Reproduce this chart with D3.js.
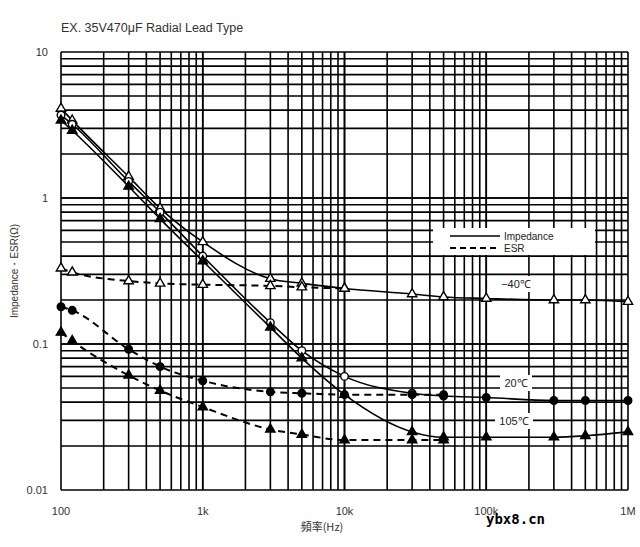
<!DOCTYPE html>
<html><head><meta charset="utf-8">
<script src="https://cdn.jsdelivr.net/npm/d3@7"></script>
<style>body{margin:0;background:#fff}</style></head>
<body><svg id="c" width="640" height="547"></svg>
<script>
const freqs = [100,120,300,500,1e3,3e3,5e3,1e4,3e4,5e4,1e5,3e5,5e5,1e6];
const zM40 = [4.1,3.4,1.4,0.85,0.5,0.28,0.26,0.24,0.22,0.21,0.205,0.2,0.2,0.195];
const esrM40 = [0.33,0.31,0.27,0.26,0.255,0.25,0.245,0.24];
const z20 = [3.7,3.2,1.3,0.8,0.4,0.14,0.09,0.06,0.046,0.044,0.043,0.041,0.041,0.041];
const esr20 = [0.18,0.17,0.092,0.07,0.056,0.047,0.046,0.045,0.045,0.045];
const z105 = [3.4,2.9,1.2,0.72,0.37,0.13,0.08,0.045,0.025,0.023,0.023,0.023,0.0235,0.025];
const esr105 = [0.12,0.105,0.061,0.048,0.037,0.026,0.024,0.022,0.022,0.022];
const xTicks = [[100,"100"],[1e3,"1k"],[1e4,"10k"],[1e5,"100k"],[1e6,"1M"]];
const yTicks = [[10,"10"],[1,"1"],[0.1,"0.1"],[0.01,"0.01"]];

const svg = d3.select("#c");
const x = d3.scaleLog().domain([100,1e6]).range([61,628]);
const y = d3.scaleLog().domain([0.01,10]).range([490,52]);
const F = "Arial, 'Liberation Sans', sans-serif";
const g = svg.append("g");
const xg=[], yg=[];
for (let d=100; d<1e6; d*=10) for (let k=1;k<=10;k++) xg.push(d*k);
for (let d=0.01; d<9.99; d*=10) for (let k=1;k<=10;k++) yg.push(d*k);
g.selectAll(".vx").data(xg).enter().append("line").attr("x1",d=>x(d)).attr("x2",d=>x(d)).attr("y1",y(10)).attr("y2",y(0.01)).attr("stroke","#000").attr("stroke-width",1.6);
g.selectAll(".hy").data(yg).enter().append("line").attr("y1",d=>y(d)).attr("y2",d=>y(d)).attr("x1",x(100)).attr("x2",x(1e6)).attr("stroke","#000").attr("stroke-width",1.6);

svg.append("rect").attr("x",433).attr("y",228).attr("width",162).attr("height",27).attr("fill","#fff");
const lg = svg.append("g").attr("font-family",F).attr("font-size",10).attr("fill","#222");
lg.append("line").attr("x1",450).attr("x2",500).attr("y1",236).attr("y2",236).attr("stroke","#000").attr("stroke-width",1.5);
lg.append("line").attr("x1",450).attr("x2",500).attr("y1",248).attr("y2",248).attr("stroke","#000").attr("stroke-width",2).attr("stroke-dasharray","6,4");
lg.append("text").attr("x",504).attr("y",240).text("Impedance");
lg.append("text").attr("x",504).attr("y",252).text("ESR");
[["−40℃",498,276,36],["20℃",500,375,32],["105℃",495,413,38]].forEach(t=>{
  svg.append("rect").attr("x",t[1]).attr("y",t[2]).attr("width",t[3]).attr("height",16).attr("fill","#fff");
  svg.append("text").attr("x",t[1]+t[3]/2).attr("y",t[2]+12).attr("text-anchor","middle").attr("font-family",F).attr("font-size",11).attr("fill","#222").text(t[0]);
});

const line = d3.line().x(d=>x(d[0])).y(d=>y(d[1])).curve(d3.curveMonotoneX);
function series(vals, dashed, marker, filledFrom){
  const pts = vals.map((v,i)=>[freqs[i],v,i]);
  svg.append("path").attr("d",line(pts)).attr("fill","none").attr("stroke","#000").attr("stroke-width",dashed?2:1.6).attr("stroke-dasharray",dashed?"7,5":null);
  const sym = d3.symbol().type(marker==="c"?d3.symbolCircle:d3.symbolTriangle).size(marker==="c"?45:38);
  svg.append("g").selectAll("path").data(pts).enter().append("path").attr("d",sym)
    .attr("transform",d=>`translate(${x(d[0])},${y(d[1])})`)
    .attr("fill",d=>d[2]>=filledFrom?"#000":"#fff").attr("stroke","#000").attr("stroke-width",1.4);
}
series(zM40,false,"t",99);
series(esrM40,true,"t",99);
series(z20,false,"c",9);
series(esr20,true,"c",0);
series(z105,false,"t",0);
series(esr105,true,"t",0);

const ax = svg.append("g").attr("font-family",F).attr("font-size",11).attr("fill","#333");
xTicks.forEach(t=>ax.append("text").attr("x",x(t[0])).attr("y",515).attr("text-anchor","middle").text(t[1]));
yTicks.forEach(t=>ax.append("text").attr("x",48).attr("y",y(t[0])+4).attr("text-anchor","end").text(t[1]));
ax.append("text").attr("x",322).attr("y",531).attr("text-anchor","middle").attr("font-family","'Noto Sans CJK SC',sans-serif").text("頻率(Hz)");
ax.append("text").attr("transform","translate(18,271) rotate(-90)").attr("text-anchor","middle").attr("font-size",10).text("Impedance・ESR(Ω)");
svg.append("text").attr("x",61).attr("y",32).attr("font-family",F).attr("font-size",12.5).attr("fill","#333").text("EX. 35V470μF Radial Lead Type");
svg.append("text").attr("x",486).attr("y",524).attr("font-family","'DejaVu Sans Mono',monospace").attr("font-size",14).attr("font-weight","bold").attr("fill","#000").text("ybx8.cn");
</script></body></html>
